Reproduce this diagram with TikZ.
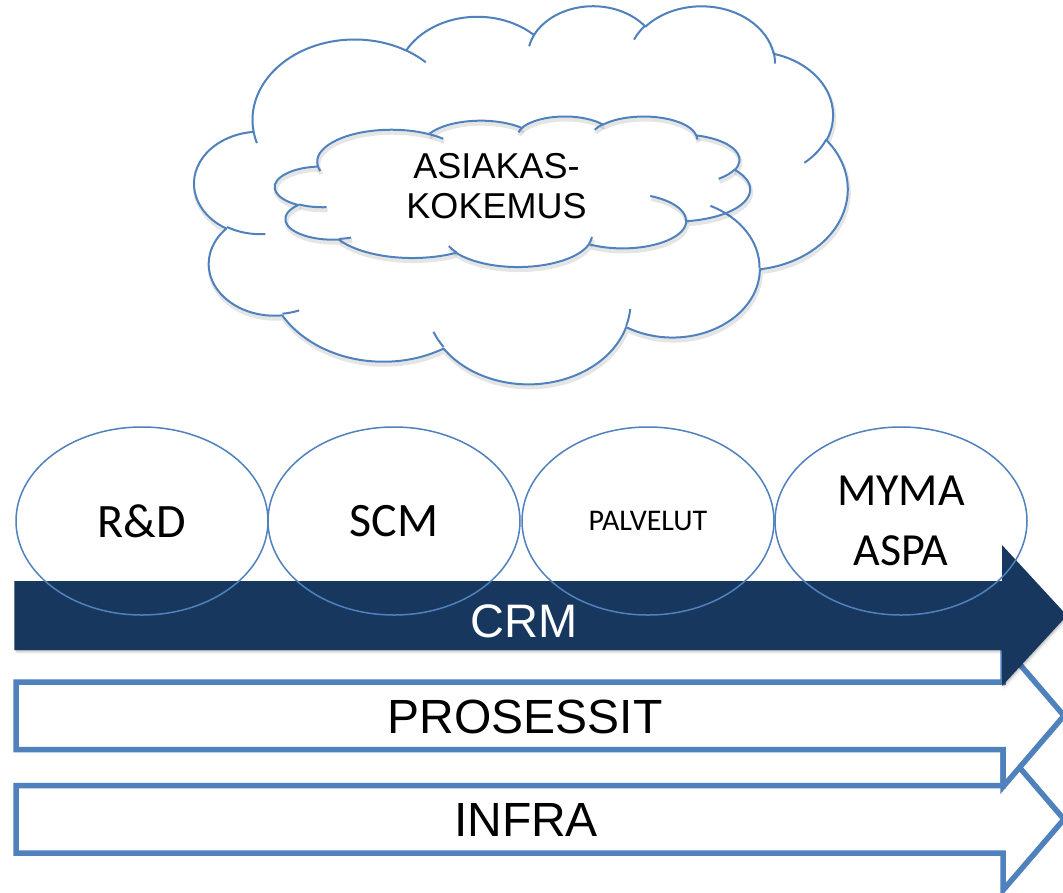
\documentclass[tikz,border=0pt]{standalone}
\usepackage{fontspec}
\setmainfont{Liberation Sans}
\newfontfamily\calibri{Carlito}
\usetikzlibrary{calc,shapes.geometric}
\definecolor{ol}{HTML}{4F81BD}
\definecolor{crm}{HTML}{17375E}
% one lobe of an OOXML cloud: wR hR (1/100 path units), start angle, sweep (visual angles, y down)
\newcommand\CA[4]{let \n1={-atan2((#1)*sin(#3),(#2)*cos(#3))}, \n2={-atan2((#1)*sin((#3)+(#4)),(#2)*cos((#3)+(#4)))} in arc[start angle=\n1, end angle={\n1-mod(\n1-\n2+720,360)}, x radius={(#1)*\cw*1pt}, y radius={(#2)*\ch*1pt}]}
\newcommand\drawcloud[6]{%
  \pgfmathsetmacro\cw{#3/432}\pgfmathsetmacro\ch{#4/432}%
  \begin{scope}[shift={(#1,#2)}, x=\cw pt, y=-\ch pt]
    \draw[#5,#6] (39.00,143.70)
      \CA{67.53}{91.90}{-190.4875}{123.7805}
      \CA{53.33}{72.67}{-144.1024}{89.9452}
      \CA{43.65}{59.45}{-145.8079}{99.7230}
      \CA{48.57}{65.95}{-130.9861}{117.2417}
      \CA{53.33}{72.73}{-78.7089}{109.0269}
      \CA{67.75}{92.20}{-46.2673}{130.2690}
      \CA{57.85}{78.67}{0.6250}{114.0333}
      \CA{67.52}{92.15}{22.4516}{115.1726}
      \CA{77.20}{105.43}{66.2426}{75.7110}
      \CA{43.60}{59.18}{-274.9421}{146.7356}
      \CA{43.45}{59.45}{-246.8285}{152.5189} -- cycle;
    \draw[#5]
      (46.93,261.77) \CA{43.45}{59.45}{86.7420}{26.4295}
      (69.28,348.99) \CA{43.60}{59.18}{73.6105}{11.4475}
      (164.78,390.90) \CA{67.52}{92.15}{137.6242}{14.0811}
      (288.27,347.51) \CA{67.52}{92.15}{6.4533}{15.9984}
      (341.29,229.54) \CA{57.85}{78.67}{-70.2924}{70.9174}
      (417.98,153.54) \CA{53.33}{72.73}{30.3180}{27.7515}
      (383.24,54.26) \CA{48.57}{65.95}{-13.7443}{14.8589}
      (290.78,39.52) \CA{48.57}{65.95}{-149.1815}{18.1954}
      (221.41,47.20) \CA{43.65}{59.45}{-163.4943}{17.6864}
      (140.00,51.92) \CA{67.53}{91.90}{-66.7070}{12.3194}
      (41.27,157.89) \CA{67.53}{91.90}{157.6544}{11.8582};
  \end{scope}}
\tikzset{
  cloudline/.style={draw=ol, line width=2pt, line join=round},
  cloudshadow/.style={draw=black, draw opacity=0.10, line width=4pt, line join=round},
  outarrow/.style={draw=ol, fill=white, line width=5.5pt, line join=miter},
  ell/.style={ellipse, draw=ol, line width=1.5pt, minimum width=252pt, minimum height=188pt, inner sep=0pt},
  txt/.style={inner sep=0pt},
  bigsans/.style={txt, font=\fontsize{48}{58}\selectfont},
  cal48/.style={txt, font=\calibri\fontsize{48}{58}\selectfont},
  cal30/.style={txt, font=\calibri\fontsize{30}{36}\selectfont},
  cal46/.style={txt, align=center, font=\calibri\fontsize{46}{60.4}\selectfont},
  cloudtxt/.style={txt, align=center, font=\fontsize{36}{40}\selectfont},
}
\begin{document}
\begin{tikzpicture}[x=1pt, y=-1pt]
\useasboundingbox (0,0) rectangle (1063,892);
\fill[white] (0,0) rectangle (1063,892);
% clouds (soft shadow first)
\drawcloud{195.5}{8}{653}{378}{cloudshadow}{}
\drawcloud{194.5}{5}{653}{378}{cloudline}{fill=white}
\drawcloud{276}{119}{475}{150.5}{cloudshadow}{}
\drawcloud{275}{116}{475}{150.5}{cloudline}{}
\node[cloudtxt] (asiakas) at (496.5,186.3) {ASIAKAS-\\KOKEMUS};
% INFRA and PROSESSIT arrows
\draw[outarrow] (16,785.5) -- (1003,785.5) -- (1003,748.25) -- (1064,819.25) -- (1003,890.25) -- (1003,853) -- (16,853) -- cycle;
\draw[outarrow] (16,682) -- (1003,682) -- (1003,644.75) -- (1064,715.75) -- (1003,786.75) -- (1003,749.5) -- (16,749.5) -- cycle;
% CRM arrow with soft shadow
\foreach \s/\o in {4/0.03,3/0.05,2/0.07,1/0.09}
  \fill[black, opacity=\o] (14.3+\s*0.5,581+\s) -- (1002+\s*0.5,581+\s) -- (1002+\s*0.5,545+\s) -- (1067+\s*0.5,615.5+\s) -- (1002+\s*0.5,686+\s) -- (1002+\s*0.5,650+\s) -- (14.3+\s*0.5,650+\s) -- cycle;
\fill[crm] (14.3,581) -- (1002,581) -- (1002,545) -- (1067,615.5) -- (1002,686) -- (1002,650) -- (14.3,650) -- cycle;
\node[txt, anchor=base, text=white, font=\fontsize{47}{56}\selectfont] (crmtext) at (524.5,637) {CRM};
\node[bigsans, anchor=base] (prosessit) at (525,733) {PROSESSIT};
\node[bigsans, anchor=base] (infra) at (526,836.5) {INFRA};
% ellipses
\node[ell] (rd) at (142,521) {};
\node[ell] (scm) at (394,521) {};
\node[ell] (palvelut) at (648,521) {};
\node[ell] (myma) at (901,521) {};
\node[cal48] (rdtext) at (rd.center) {R\&D};
\node[cal48] (scmtext) at (scm.center) {SCM};
\node[cal30] (palveluttext) at (palvelut.center) {PALVELUT};
\node[cal46] (mymatext) at (myma.center) {MYMA\\ASPA};
\end{tikzpicture}
\end{document}
